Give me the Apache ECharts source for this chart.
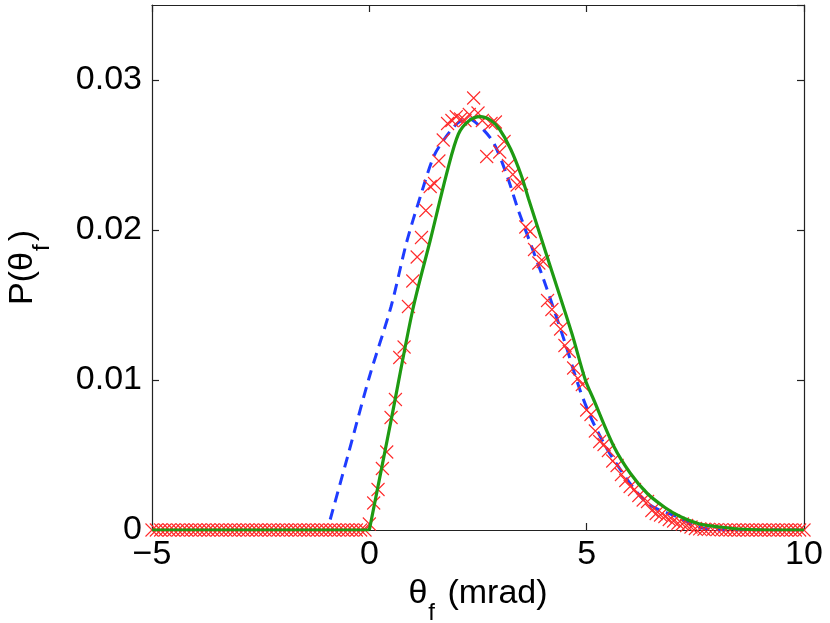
<!DOCTYPE html>
<html>
<head>
<meta charset="utf-8">
<script src="https://cdn.jsdelivr.net/npm/echarts@6/dist/echarts.min.js"></script>
<style>
html,body{margin:0;padding:0;background:#fff;}
#chart{width:830px;height:623px;}
</style>
</head>
<body>
<div id="chart"></div>
<script>
// Tick values
var xTicks = [-5, 0, 5, 10];
var yTicks = [0, 0.01, 0.02, 0.03];

// Measured points (red crosses): x positions and values
var markerX = [
 -5.0,-4.9,-4.8,-4.7,-4.6,-4.5,-4.4,-4.3,-4.2,-4.1,
 -4.0,-3.9,-3.8,-3.7,-3.6,-3.5,-3.4,-3.3,-3.2,-3.1,
 -3.0,-2.9,-2.8,-2.7,-2.6,-2.5,-2.4,-2.3,-2.2,-2.1,
 -2.0,-1.9,-1.8,-1.7,-1.6,-1.5,-1.4,-1.3,-1.2,-1.1,
 -1.0,-0.9,-0.8,-0.7,-0.6,-0.5,-0.4,-0.3,-0.2,-0.1,
 0.0,0.1,0.2,0.3,0.4,0.5,0.6,0.7,0.8,0.9,
 1.0,1.1,1.2,1.3,1.4,1.5,1.6,1.7,1.8,1.9,
 2.0,2.1,2.2,2.3,2.4,2.5,2.6,2.7,2.8,2.9,
 3.0,3.1,3.2,3.3,3.4,3.5,3.6,3.7,3.8,3.9,
 4.0,4.1,4.2,4.3,4.4,4.5,4.6,4.7,4.8,4.9,
 5.0,5.1,5.2,5.3,5.4,5.5,5.6,5.7,5.8,5.9,
 6.0,6.1,6.2,6.3,6.4,6.5,6.6,6.7,6.8,6.9,
 7.0,7.1,7.2,7.3,7.4,7.5,7.6,7.7,7.8,7.9,
 8.0,8.1,8.2,8.3,8.4,8.5,8.6,8.7,8.8,8.9,
 9.0,9.1,9.2,9.3,9.4,9.5,9.6,9.7,9.8,9.9,10.0
];
var markerY = [
 0,0,0,0,0,0,0,0,0,0,
 0,0,0,0,0,0,0,0,0,0,
 0,0,0,0,0,0,0,0,0,0,
 0,0,0,0,0,0,0,0,0,0,
 0,0,0,0,0,0,0,0,0,0,
 0.0004,0.0018,0.0027,0.0041,0.0052,0.0075,0.0087,0.0115,0.0122,0.0149,
 0.0166,0.0182,0.0195,0.0213,0.0229,0.0231,0.0246,0.0260,0.0271,0.0273,
 0.02755,0.0274,0.0273,0.0277,0.0288,0.0278,0.0273,0.0249,0.0271,0.0272,
 0.0252,0.0259,0.0243,0.0237,0.0230,0.0231,0.0202,0.0199,0.0187,0.0178,
 0.0179,0.0153,0.0147,0.0140,0.0134,0.0123,0.0119,0.0108,0.0101,0.0097,
 0.0080,0.0077,0.0066,0.0059,0.0057,0.0053,0.0046,0.0043,0.0037,0.0033,
 0.0029,0.0027,0.0023,0.0020,0.0019,0.0013,0.0011,0.0010,0.0009,0.0007,
 0.0006,0.00045,0.0004,0.0003,0.0002,0.0001,0.00008,0.00005,0.00004,0.00003,
 0.00002,0.00001,0,0,0,0,0,0,0,0,
 0,0,0,0,0,0,0,0,0,0,0
];

// Green solid curve: flat part and peaked part
var greenFlatX = [-5, 0];
var greenFlatY = [0, 0];
var greenX = [0, 0.5, 1.0, 1.4, 1.8, 2.05, 2.3, 2.55, 2.8, 3.0, 3.25, 3.5, 3.66, 4.16, 4.66, 4.97, 5.16, 5.62, 6.0, 6.39, 6.8, 7.15, 7.6, 8.07, 8.6, 9.2, 10];
var greenY = [0, 0.0073, 0.0147, 0.0193, 0.0240, 0.0264, 0.0273, 0.02756, 0.0273, 0.0267, 0.0254, 0.0236, 0.0221, 0.0176, 0.0131, 0.0100, 0.0087, 0.0056, 0.0038, 0.00245, 0.0015, 0.0009, 0.0004, 0.0002, 0.00005, 0, 0];

// Blue dashed curve
var blueX = [-0.9, -0.5, 0, 0.5, 0.85, 1.17, 1.48, 1.71, 2.02, 2.25, 2.55, 2.86, 3.17, 3.43, 4.01, 4.5, 4.85, 5.16, 5.62, 6.39, 7.15, 7.54, 8.2, 10];
var blueY = [0.0007, 0.0049, 0.0102, 0.0149, 0.0191, 0.0222, 0.0249, 0.0260, 0.0271, 0.02745, 0.0269, 0.0258, 0.0236, 0.0213, 0.0167, 0.0125, 0.0093, 0.0071, 0.0047, 0.0018, 0.0008, 0.0002, 0, 0];

function zip(a, b) { return a.map(function (v, i) { return [v, b[i]]; }); }

var chart = echarts.init(document.getElementById('chart'), null, {renderer: 'canvas'});
var FONT = 'Liberation Sans, Arial, Helvetica, sans-serif';
var FS = 34;
function axisCommon() {
  return {
    axisLine: {show: true, onZero: false, lineStyle: {color: '#222', width: 1.2}},
    axisTick: {show: true, inside: true, length: 7, lineStyle: {color: '#222', width: 1.2}},
    splitLine: {show: false}
  };
}
var richName = {
  a: {fontSize: FS, fontFamily: FONT, color: '#000', lineHeight: 40, verticalAlign: 'top'},
  b: {fontSize: 24, fontFamily: FONT, color: '#000', lineHeight: 24, padding: [24, 3, 0, 1], verticalAlign: 'top'}
};
var option = {
  backgroundColor: '#fff',
  animation: false,
  grid: {left: 152, right: 26, top: 5, bottom: 93, containLabel: false, outerBoundsMode: 'none'},
  xAxis: [
    Object.assign({
      type: 'value', min: -5, max: 10, interval: 5, position: 'bottom',
      axisLabel: {show: true, color: '#000', fontSize: FS, fontFamily: FONT, margin: 8,
        formatter: function (v) { return xTicks.indexOf(v) >= 0 ? (v < 0 ? '\u2212' + Math.abs(v) : String(v)) : ''; }},
      name: '{a|\u03b8}{b|f}{a| (mrad)}',
      nameLocation: 'middle', nameGap: 34,
      nameTextStyle: {rich: richName}
    }, axisCommon()),
    Object.assign({
      type: 'value', min: -5, max: 10, interval: 5, position: 'top',
      axisLabel: {show: false}
    }, axisCommon())
  ],
  yAxis: [
    Object.assign({
      type: 'value', min: 0, max: 0.035, interval: 0.01, position: 'left',
      axisLabel: {show: true, color: '#000', fontSize: FS, fontFamily: FONT, margin: 10, showMaxLabel: false,
        formatter: function (v) { return yTicks.indexOf(Math.round(v * 1000) / 1000) >= 0 ? (v === 0 ? '0' : v.toFixed(2)) : ''; }},
      name: '{a|P(\u03b8}{b|f}{a|)}',
      nameLocation: 'middle', nameGap: 106, nameRotate: 90,
      nameTextStyle: {rich: richName}
    }, axisCommon()),
    Object.assign({
      type: 'value', min: 0, max: 0.035, interval: 0.01, position: 'right',
      axisLabel: {show: false}
    }, axisCommon())
  ],
  series: [
    {
      type: 'line', name: 'blue', data: zip(blueX, blueY), smooth: 0.3,
      showSymbol: false, symbol: 'none', z: 2,
      lineStyle: {color: '#1f3cff', width: 3, type: [11, 7]}
    },
    {
      type: 'scatter', name: 'data', data: zip(markerX, markerY), z: 3,
      symbol: 'path://M0,0L10,10M10,0L0,10', symbolSize: 13,
      itemStyle: {color: '#ff2a2a', borderColor: '#ff2a2a', borderWidth: 1.1, opacity: 1}
    },
    {
      type: 'line', name: 'greenFlat', data: zip(greenFlatX, greenFlatY), smooth: false,
      showSymbol: false, symbol: 'none', z: 4,
      lineStyle: {color: '#1e9a12', width: 3.2}
    },
    {
      type: 'line', name: 'green', data: zip(greenX, greenY), smooth: 0.3,
      showSymbol: false, symbol: 'none', z: 4,
      lineStyle: {color: '#1e9a12', width: 3.2}
    }
  ]
};
chart.setOption(option);
</script>
</body>
</html>
